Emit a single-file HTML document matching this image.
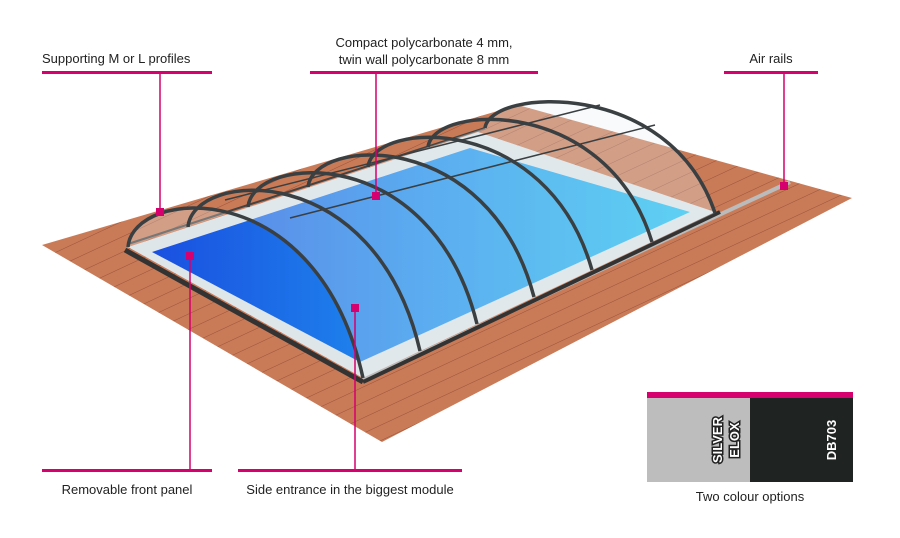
<!DOCTYPE html>
<html><head><meta charset="utf-8"><style>
html,body{margin:0;padding:0;background:#fff;}
body{width:900px;height:538px;overflow:hidden;position:relative;font-family:"Liberation Sans",sans-serif;}
.t{position:absolute;font-size:13px;color:#222;white-space:nowrap;}
</style></head><body>
<svg width="900" height="538" style="position:absolute;left:0;top:0">
<defs>
<pattern id="wood" width="14" height="14" patternUnits="userSpaceOnUse" patternTransform="rotate(-25)">
<rect width="14" height="14" fill="#c97b58"/><line x1="0" y1="0" x2="14" y2="0" stroke="#9a5238" stroke-width="1"/>
</pattern>
<linearGradient id="wat" x1="0" y1="0" x2="1" y2="0"><stop offset="0" stop-color="#1a4fe0"/><stop offset="0.5" stop-color="#1f8fef"/><stop offset="1" stop-color="#23c4f2"/></linearGradient>
</defs>
<polygon points="42,245 518,105 852,198 382,442" fill="url(#wood)"/>
<polygon points="128,247 478,132 715,212 363,378" fill="#dfe6ea"/>
<polygon points="152,252 470,148 690,212 360,362" fill="url(#wat)"/>
<line x1="363" y1="380" x2="790" y2="182" stroke="#bbb" stroke-width="4"/>
<line x1="125" y1="250" x2="363" y2="382" stroke="#333" stroke-width="5"/>
<line x1="363" y1="382" x2="720" y2="212" stroke="#333" stroke-width="4"/>
<line x1="128" y1="244" x2="485" y2="128" stroke="#444" stroke-width="2"/>
<path d="M128,247 C133,187 318,173 363,378 L715,213 C670,78 490,88 485,128 Z" fill="#e8eef2" fill-opacity="0.3"/>
<g fill="none" stroke="#3a3f42" stroke-width="3.5">
<path d="M128,247 C133,187 318,173 363,378"/>
<path d="M188,227 C193,170 375,158 420,351"/>
<path d="M248,207 C253,154 432,142 477,324"/>
<path d="M308,187 C313,137 489,127 534,297"/>
<path d="M368,167 C373,120 547,112 592,270"/>
<path d="M428,147 C433,104 607,95 652,242"/>
<path d="M485,128 C490,88 670,78 715,213"/>
</g>
<g stroke="#3a3f42" stroke-width="1.5">
<line x1="225" y1="200" x2="600" y2="105"/><line x1="290" y1="218" x2="655" y2="125"/>
</g>
<g stroke="#d6006e" stroke-width="1.5" fill="#d6006e">
<rect x="42" y="71" width="170" height="3" stroke="none"/>
<rect x="310" y="71" width="228" height="3" stroke="none"/>
<rect x="724" y="71" width="94" height="3" stroke="none"/>
<rect x="42" y="469" width="170" height="3" stroke="none"/>
<rect x="238" y="469" width="224" height="3" stroke="none"/>
<line x1="160" y1="73" x2="160" y2="212"/><rect x="156" y="208" width="8" height="8" stroke="none"/>
<line x1="376" y1="73" x2="376" y2="196"/><rect x="372" y="192" width="8" height="8" stroke="none"/>
<line x1="784" y1="73" x2="784" y2="186"/><rect x="780" y="182" width="8" height="8" stroke="none"/>
<line x1="190" y1="256" x2="190" y2="470"/><rect x="186" y="252" width="8" height="8" stroke="none"/>
<line x1="355" y1="308" x2="355" y2="470"/><rect x="351" y="304" width="8" height="8" stroke="none"/>
<rect x="647" y="392" width="206" height="6" stroke="none"/>
</g>
<rect x="647" y="398" width="103" height="84" fill="#bdbdbd"/>
<rect x="750" y="398" width="103" height="84" fill="#1f2322"/>
<text transform="translate(722,440) rotate(-90)" text-anchor="middle" font-family="Liberation Sans" font-weight="bold" font-size="13" fill="#fff" stroke="#222" stroke-width="3" paint-order="stroke">SILVER</text>
<text transform="translate(739,440) rotate(-90)" text-anchor="middle" font-family="Liberation Sans" font-weight="bold" font-size="13" fill="#fff" stroke="#222" stroke-width="3" paint-order="stroke">ELOX</text>
<text transform="translate(836,440) rotate(-90)" text-anchor="middle" font-family="Liberation Sans" font-weight="bold" font-size="13" fill="#fff">DB703</text>
</svg>
<div class="t" style="left:42px;top:51px">Supporting M or L profiles</div>
<div class="t" style="left:310px;width:228px;text-align:center;top:34px;line-height:17px">Compact polycarbonate 4 mm,<br>twin wall polycarbonate 8 mm</div>
<div class="t" style="left:724px;width:94px;text-align:center;top:51px">Air rails</div>
<div class="t" style="left:42px;width:170px;text-align:center;top:482px">Removable front panel</div>
<div class="t" style="left:238px;width:224px;text-align:center;top:482px">Side entrance in the biggest module</div>
<div class="t" style="left:647px;width:206px;text-align:center;top:489px">Two colour options</div>
</body></html>
